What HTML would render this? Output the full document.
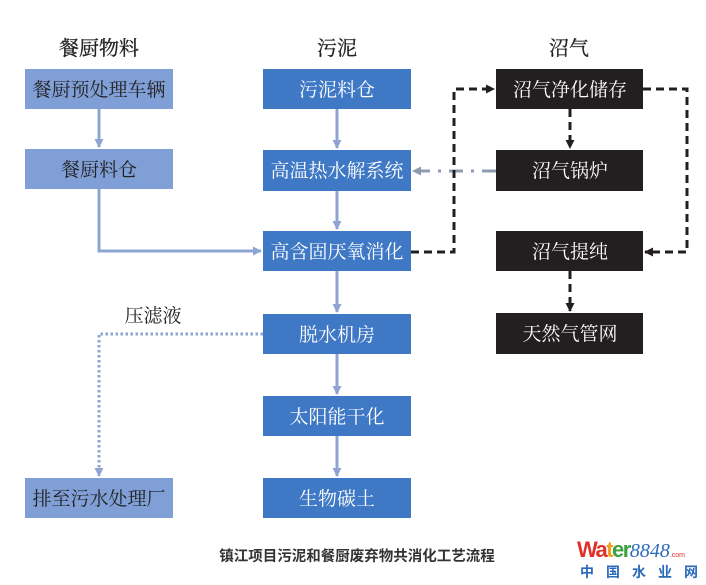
<!DOCTYPE html>
<html><head><meta charset="utf-8"><style>
html,body{margin:0;padding:0;background:#fff;}
svg{display:block}
.s{font-family:"Liberation Serif","Noto Serif CJK SC",serif;font-size:19px;}
.h{font-family:"Liberation Serif","Noto Serif CJK SC",serif;font-size:20px;fill:#222;stroke:#222;stroke-width:0.3}
</style></head><body>
<svg width="706" height="585" viewBox="0 0 706 585" xmlns="http://www.w3.org/2000/svg">
<defs>
<marker id="ab" markerWidth="9" markerHeight="9" refX="8" refY="4.5" orient="auto" markerUnits="userSpaceOnUse"><path d="M0,0 L9,4.5 L0,9 z" fill="#8ea4d2"/></marker>
<marker id="ak" markerWidth="9" markerHeight="9" refX="8" refY="4.5" orient="auto" markerUnits="userSpaceOnUse"><path d="M0,0 L9,4.5 L0,9 z" fill="#231f20"/></marker>
<marker id="ag" markerWidth="9" markerHeight="9" refX="8" refY="4.5" orient="auto" markerUnits="userSpaceOnUse"><path d="M0,0 L9,4.5 L0,9 z" fill="#8f9bb0"/></marker>
</defs>
<text class="h" x="99" y="55" text-anchor="middle">餐厨物料</text>
<text class="h" x="337" y="55" text-anchor="middle">污泥</text>
<text class="h" x="569" y="55" text-anchor="middle">沼气</text>

<g stroke="#8ea4d2" stroke-width="3" fill="none">
<line x1="99" y1="109" x2="99" y2="147" marker-end="url(#ab)"/>
<polyline points="99,189 99,251 261,251" marker-end="url(#ab)"/>
<line x1="337" y1="109" x2="337" y2="148" marker-end="url(#ab)"/>
<line x1="337" y1="191" x2="337" y2="229" marker-end="url(#ab)"/>
<line x1="337" y1="271" x2="337" y2="312" marker-end="url(#ab)"/>
<line x1="337" y1="354" x2="337" y2="394" marker-end="url(#ab)"/>
<line x1="337" y1="436" x2="337" y2="476" marker-end="url(#ab)"/>
<polyline points="263,334 99,334 99,476" stroke-dasharray="2.5,2.5" marker-end="url(#ab)"/>
</g>
<line x1="496" y1="171" x2="413" y2="171" stroke="#8f9bb0" stroke-width="3" stroke-dasharray="14,8,3,8" marker-end="url(#ag)"/>
<g stroke="#231f20" stroke-width="3" fill="none" stroke-dasharray="8,5">
<polyline points="411,252 454,252 454,89 494,89" marker-end="url(#ak)"/>
<line x1="570" y1="109" x2="570" y2="148" marker-end="url(#ak)"/>
<polyline points="643,89 687,89 687,252 645,252" marker-end="url(#ak)"/>
<line x1="570" y1="271" x2="570" y2="311" marker-end="url(#ak)"/>
</g>

<g fill="#7f9fd6">
<rect x="25" y="69" width="148" height="40"/>
<rect x="25" y="149" width="148" height="40"/>
<rect x="25" y="478" width="148" height="40"/>
</g>
<g class="s" fill="#222" text-anchor="middle">
<text x="99" y="96">餐厨预处理车辆</text>
<text x="99" y="176">餐厨料仓</text>
<text x="99" y="505">排至污水处理厂</text>
</g>
<g fill="#3f78c4">
<rect x="263" y="69" width="148" height="40"/>
<rect x="263" y="150" width="148" height="41"/>
<rect x="263" y="231" width="148" height="40"/>
<rect x="263" y="314" width="148" height="40"/>
<rect x="263" y="396" width="148" height="40"/>
<rect x="263" y="478" width="148" height="40"/>
</g>
<g class="s" fill="#fff" text-anchor="middle">
<text x="337" y="96">污泥料仓</text>
<text x="337" y="177">高温热水解系统</text>
<text x="337" y="258">高含固厌氧消化</text>
<text x="337" y="341">脱水机房</text>
<text x="337" y="423">太阳能干化</text>
<text x="337" y="505">生物碳土</text>
</g>
<g fill="#231f20">
<rect x="496" y="69" width="147" height="40"/>
<rect x="496" y="150" width="147" height="41"/>
<rect x="496" y="231" width="147" height="40"/>
<rect x="496" y="313" width="147" height="41"/>
</g>
<g class="s" fill="#fff" text-anchor="middle">
<text x="570" y="96">沼气净化储存</text>
<text x="570" y="177">沼气锅炉</text>
<text x="570" y="258">沼气提纯</text>
<text x="570" y="340">天然气管网</text>
</g>
<text class="s" x="153" y="322" text-anchor="middle" fill="#222">压滤液</text>

<text x="357" y="561" text-anchor="middle" font-family="'Liberation Sans','Noto Sans CJK SC',sans-serif" font-size="14.5" font-weight="bold" fill="#333">镇江项目污泥和餐厨废弃物共消化工艺流程</text>
<text x="577" y="557" font-family="'Liberation Sans',sans-serif" font-size="22" font-weight="bold" letter-spacing="-1.5"><tspan fill="#e0302a">Wa</tspan><tspan fill="#f0a020">t</tspan><tspan fill="#3aa040">er</tspan><tspan fill="#2a6ab8" font-family="'Liberation Serif',serif" font-style="italic" font-weight="normal" font-size="20" letter-spacing="0">8848</tspan><tspan fill="#e0302a" font-size="7" font-weight="normal" letter-spacing="0">.com</tspan></text>
<text x="580" y="577" font-family="'Liberation Sans','Noto Sans CJK SC',sans-serif" font-size="14" font-weight="bold" fill="#2a6ab8" letter-spacing="12">中国水业网</text>
</svg>
</body></html>
